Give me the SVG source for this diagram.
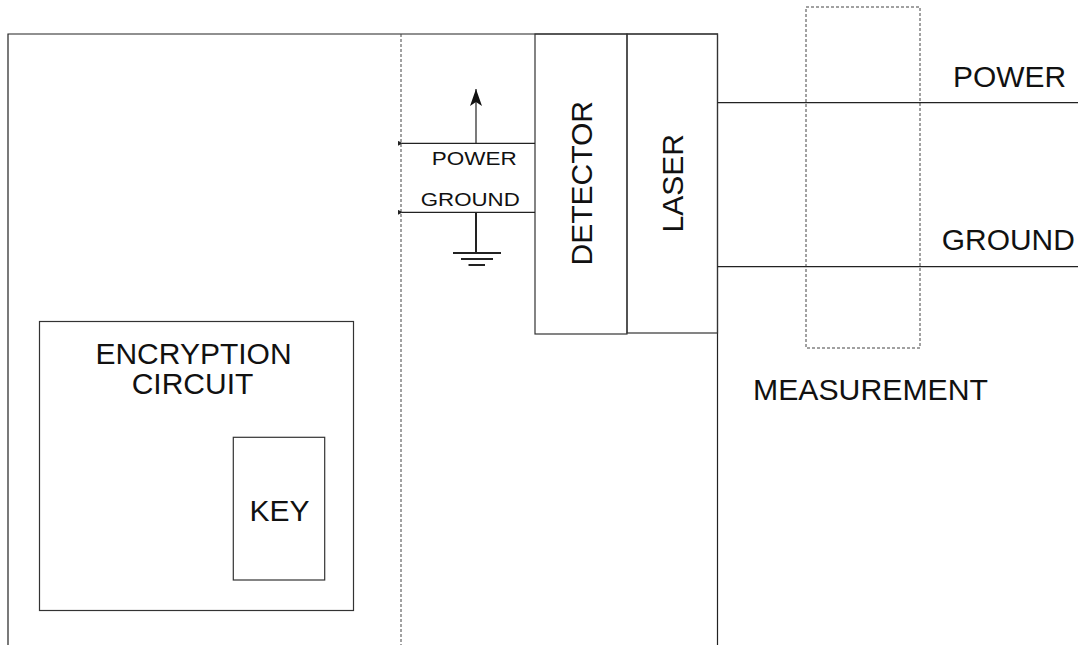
<svg xmlns="http://www.w3.org/2000/svg" width="1078" height="645" viewBox="0 0 1078 645">
<style>
.ln{stroke:#222;stroke-width:1.2;fill:none}
.box{stroke:#333;stroke-width:1.2;fill:none}
.dash{stroke:#444;stroke-width:1;fill:none;stroke-dasharray:3 2}
.t{font-family:"Liberation Sans",Arial,Helvetica,sans-serif;fill:#111}
.big{font-size:30px}
.small{font-size:18.5px}
.gnd{stroke:#222;stroke-width:2;fill:none}
</style>
<defs>
<marker id="sm" viewBox="0 0 6 6" refX="1" refY="3" markerWidth="5" markerHeight="5" orient="auto" markerUnits="userSpaceOnUse">
<path d="M0,0 L6,3 L0,6 Z" fill="#222" transform="rotate(180 3 3)"/>
</marker>
<marker id="up" viewBox="0 0 17 12" refX="17" refY="6" markerWidth="17" markerHeight="12" orient="auto" markerUnits="userSpaceOnUse">
<path d="M17,6 L0,0 L4,6 L0,12 Z" fill="#111"/>
</marker>
</defs>
<rect width="1078" height="645" fill="#fff"/>
<g id="enclosure">
<path class="ln" d="M8,645 V34 H717.5 V645"/>
<line class="dash" x1="401" y1="34" x2="401" y2="645"/>
</g>
<g id="detector">
<rect class="box" x="535" y="34" width="92" height="300"/>
<text class="t big" transform="translate(591.5,183.3) rotate(-90)" text-anchor="middle">DETECTOR</text>
</g>
<g id="laser">
<rect class="box" x="627" y="34" width="90.5" height="299"/>
<text class="t big" transform="translate(683.3,183.3) rotate(-90)" text-anchor="middle">LASER</text>
</g>
<g id="encryption-circuit">
<rect class="box" x="39.5" y="321.5" width="314" height="289"/>
<text class="t big" x="193.5" y="364.3" text-anchor="middle">ENCRYPTION</text>
<text class="t big" x="192.5" y="394.3" text-anchor="middle">CIRCUIT</text>
</g>
<g id="key">
<rect class="box" x="233.3" y="437.3" width="91.4" height="142.7"/>
<text class="t big" x="279.5" y="520.5" text-anchor="middle">KEY</text>
</g>
<g id="measurement">
<rect class="dash" x="806" y="7" width="114" height="341"/>
<text class="t big" x="870.5" y="399.5" text-anchor="middle" textLength="235" lengthAdjust="spacingAndGlyphs">MEASUREMENT</text>
</g>
<g id="ground-symbol">
<line class="gnd" x1="476" y1="212.3" x2="476" y2="253"/>
<line class="gnd" x1="453" y1="253" x2="501" y2="253"/>
<line class="gnd" x1="461" y1="259" x2="493" y2="259"/>
<line class="gnd" x1="468.5" y1="265" x2="485" y2="265"/>
</g>
<g id="connectors">
<line class="ln" x1="535" y1="143.3" x2="402" y2="143.3" marker-end="url(#sm)"/>
<line class="ln" x1="535" y1="212.3" x2="402" y2="212.3" marker-end="url(#sm)"/>
<line class="ln" x1="476" y1="143.3" x2="476" y2="89" marker-end="url(#up)"/>
<line class="ln" x1="717.5" y1="102.7" x2="1078" y2="102.7"/>
<line class="ln" x1="717.5" y1="266.7" x2="1078" y2="266.7"/>
</g>
<g id="labels">
<text class="t small" x="474.2" y="165" text-anchor="middle" textLength="85" lengthAdjust="spacingAndGlyphs">POWER</text>
<text class="t small" x="470.3" y="206" text-anchor="middle" textLength="99" lengthAdjust="spacingAndGlyphs">GROUND</text>
<text class="t big" x="1009.5" y="86.7" text-anchor="middle" textLength="113" lengthAdjust="spacingAndGlyphs">POWER</text>
<text class="t big" x="1008.3" y="250" text-anchor="middle" textLength="133" lengthAdjust="spacingAndGlyphs">GROUND</text>
</g>
</svg>
